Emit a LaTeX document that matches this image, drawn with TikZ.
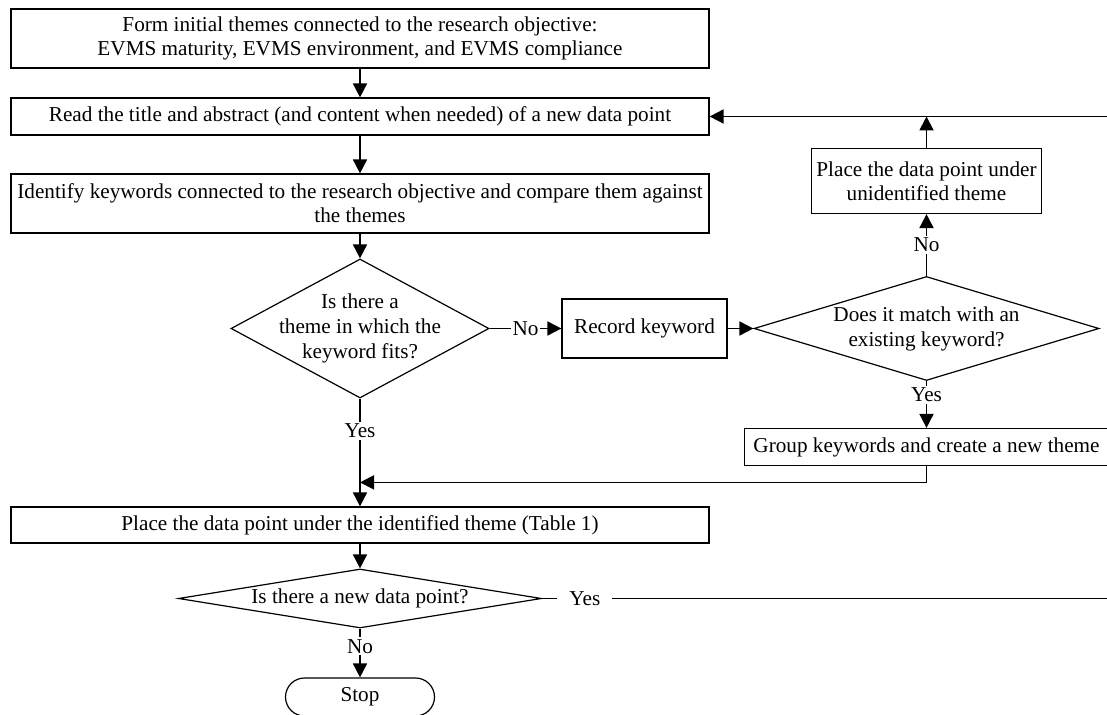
\documentclass[tikz,border=0pt]{standalone}
\usepackage{fontspec}
\setmainfont{Liberation Serif}
\usepackage{tikz}
\usetikzlibrary{shapes.geometric,arrows.meta,calc}
\tikzset{node distance=40pt, auto}
\tikzset{
  block/.style={rectangle, draw, line width=0.6pt, align=center, inner xsep=1pt, inner ysep=2pt,
                font=\fontsize{10.6}{12}\selectfont},
  decision/.style={diamond, draw, line width=0.6pt, align=center, inner sep=-4pt,
                   font=\fontsize{10.6}{12.5}\selectfont},
  terminal/.style={rectangle, draw, line width=0.6pt, rounded corners=9.5pt,
                   font=\fontsize{10.6}{12}\selectfont},
  arrow/.style={draw, line width=0.9pt, -{Triangle[length=7pt,width=7pt]}},
  lbl/.style={fill=white, anchor=center, inner sep=1pt, font=\fontsize{10.6}{12}\selectfont}
}

\begin{document}
\begin{tikzpicture}
  \useasboundingbox (0,0) rectangle (553.5pt,-357.5pt);

  % main column
  \node[block, minimum width=349pt, minimum height=29.5pt] (form) at (180pt,-19.25pt)
    {Form initial themes connected to the research objective:\\EVMS maturity, EVMS environment, and EVMS compliance};
  \node[block, minimum width=349pt, minimum height=18.5pt, below of=form, node distance=39pt] (read)
    {Read the title and abstract (and content when needed) of a new data point};
  \node[block, minimum width=349pt, minimum height=29.5pt, below of=read, node distance=43.5pt] (ident)
    {Identify keywords connected to the research objective and compare them against\\the themes};
  \node[decision, aspect=1.86, minimum width=129pt, minimum height=69.5pt, below of=ident, node distance=62.5pt] (fits)
    {Is there a\\theme in which the\\keyword fits?};
  \node[block, minimum width=349pt, minimum height=18pt, below of=fits, node distance=98.25pt] (place)
    {Place the data point under the identified theme (Table 1)};
  \node[decision, aspect=6.15, minimum width=181.5pt, minimum height=29.5pt, below of=place, node distance=36.75pt] (newpt)
    {Is there a new data point?};
  \node[terminal, minimum width=74.5pt, minimum height=19pt, below of=newpt, node distance=49.25pt] (stop) {Stop};

  % right branch
  \node[block, minimum width=82.5pt, minimum height=29.5pt, right of=fits, node distance=142.25pt] (record) {Record keyword};
  \node[decision, aspect=3.32, minimum width=172.5pt, minimum height=52pt, right of=record, node distance=141pt] (match)
    {Does it match with an\\existing keyword?};
  \node[block, minimum width=115pt, minimum height=32.5pt, above of=match, node distance=73.75pt] (unident)
    {Place the data point under\\unidentified theme};
  \node[block, minimum width=182pt, minimum height=18.5pt, below of=match, node distance=59.25pt] (group)
    {Group keywords and create a new theme};

  \coordinate (join) at ($(place.north)+(0,12pt)$);
  \coordinate (edge) at (556pt,0);

  % connectors
  \draw[arrow] (form) -- (read);
  \draw[arrow] (read) -- (ident);
  \draw[arrow] (ident) -- (fits);
  \draw[arrow] (fits) -- node[lbl] {No} (record);
  \draw[arrow] (record) -- (match);
  \draw[arrow] (match) -- node[lbl] {No} (unident);
  \draw[arrow] (unident.north) -- (unident.north |- read.east);
  \draw[arrow] (match) -- node[lbl, pos=0.3] {Yes} (group);
  \draw[arrow] (fits) -- node[lbl, pos=0.3] {Yes} (place);
  \draw[arrow] (group.south) |- (join);
  \draw[arrow] (place) -- (newpt);
  \draw[arrow] (newpt) -- node[lbl, pos=0.36] {No} (stop);
  \draw[arrow] (newpt.east) -- node[lbl, inner xsep=6pt, pos=0.075] {Yes} (newpt.east -| edge) |- (read.east);
\end{tikzpicture}
\end{document}
